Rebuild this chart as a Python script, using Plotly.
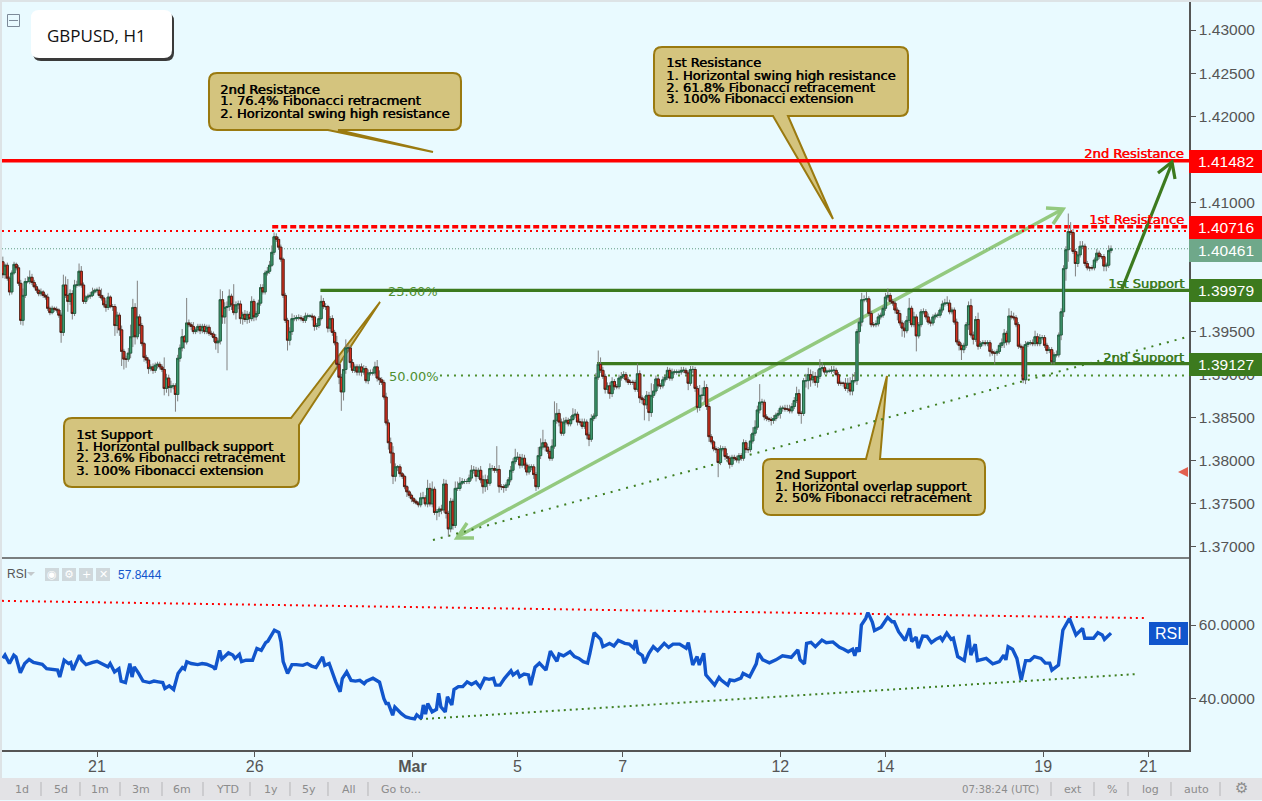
import numpy as np
import plotly.graph_objects as go

W, H = 1262, 801
first_open = 14031  # prices in pips (1/10000)

closes_a = [14016,14027,14012,13996,14018,14028,14024,14006,13963,13992,
14008,14008,14013,14007,14002,13998,13994,13996,13992,13990,
13977,13972,13977,13976,13975,13969,13949,14004,13992,13985,
13994,13971,14004,14004,14020,14004,13985,13990,13991,13992,
13996,13998,13998,13992,13989,13981,13978,13990,13979,13979,
13957,13969,13952,13927,13918,13918,13925,13944,13978,13944,
13967,13957,13936,13920,13917,13907,13909,13905,13911,13912,
13909,13906,13884,13896,13885,13887,13887,13877,13919,13931,
13944,13938,13960,13958,13956,13950,13952,13956,13951,13956,
13950,13955,13948,13947,13943,13937,13939,13987,13967,13978,
13979,13991,13981,13972,13981,13982,13965,13970,13964,13970,
13965,13985,13967,13971,13983,14001,13996,14018,14020,14027,
14042,14060,14057,14048,14034,13992,13963,13940,13950,13965,
13965,13966,13966,13965,13963,13968,13968,13968,13967,13956,
13957,13965,13985,13979,13979,13954,13965,13949,13937,13912,
13897,13880,13906,13931,13931,13914,13905,13909,13903,13909,
13903,13907,13893,13902,13902,13902,13909,13896,13894,13891,13874]
upper_a = [6,2,3,2,3,3,2,3,4,8, 4,6,8,4,3,3,2,4,2,2, 4,2,3,2,3,2,3,12,10,19, 5,4,6,5,9,6,3,2,3,4,
5,2,3,4,8,3,5,5,2,3, 3,4,3,5,3,4,6,14,10,5, 42,3,3,2,3,3,3,4,3,3, 3,3,14,5,4,6,3,3,4,4,
9,2,29,4,3,5,3,3,3,3, 3,3,3,3,3,4,3,12,10,6, 6,8,3,24,4,4,4,3,5,4, 3,6,3,3,4,4,4,3,5,5,
8,5,4,3,3,2,3,3,5,6, 4,3,4,3,3,4,3,2,3,2, 3,3,7,4,4,2,3,4,3,8, 10,4,14,10,4,3,4,3,3,3,
4,4,3,4,4,5,6,8,9,3,3]
lower_a = [4,5,3,4,3,2,3,3,5,6, 3,2,3,3,2,3,3,3,3,3, 3,3,2,3,3,3,12,4,3,12, 4,7,3,3,2,3,3,3,3,3,
2,2,3,3,3,3,5,3,2,5, 12,9,7,17,12,10,3,6,12,9, 3,10,3,5,4,6,3,4,3,4, 3,3,8,5,10,6,4,20,8,4,
4,8,3,3,4,3,3,3,4,3, 3,3,3,3,5,8,12,4,8,8, 73,5,6,3,8,5,6,7,3,5, 5,3,5,4,3,3,3,3,3,3,
2,3,3,3,3,3,3,12,6,4, 3,3,3,3,3,3,3,2,4,5, 4,3,2,3,4,5,4,4,3,3, 8,22,10,5,5,6,3,3,4,4,
5,3,3,4,3,3,3,4,6,3,3]

closes_b = [13844,13821,13809,13782,13793,13793,13785,13782,13770,13764,
13760,13756,13753,13751,13749,13757,13757,13750,13768,13750,
13767,13740,13741,13744,13743,13773,13739,13721,13753,13725,
13768,13768,13774,13776,13776,13776,13780,13789,13789,13782,
13789,13778,13770,13778,13774,13791,13791,13789,13790,13770,
13770,13769,13772,13778,13789,13799,13804,13804,13795,13803,
13795,13787,13793,13793,13784,13770,13806,13816,13821,13816,
13811,13803,13817,13847,13855,13845,13832,13845,13847,13843,
13848,13853,13854,13845,13845,13840,13845,13830,13825,13849,
13852,13897,13912,13905,13898,13883,13887,13878,13892,13886,
13886,13896,13898,13900,13894,13891,13891,13891,13883,13901,
13873,13871,13865,13876,13856,13876,13881,13895,13887,13887,
13894,13897,13905,13896,13903,13903,13903,13903,13905,13905,
13902,13890,13906,13906,13884,13862,13876,13876,13885,13863,
13828,13822,13814,13813,13798,13814,13814,13805,13803,13796,
13804,13803,13801,13806,13803,13821,13813,13813,13823,13832,
13839,13859,13868,13868,13851,13849,13848,13847,13849,13853,13855]
upper_b = [5,4,6,8,4,2,3,2,2,2, 2,2,2,2,2,6,7,3,10,6, 9,3,3,3,5,6,5,3,4,3, 8,8,7,4,3,3,4,6,5,4,
3,5,5,6,5,6,4,3,27,5, 3,3,3,3,5,4,10,6,4,5, 4,3,3,3,3,3,10,10,15,4, 4,3,8,22,12,5,4,5,4,3,
4,8,6,3,4,4,4,3,3,5, 3,5,16,8,4,3,4,4,5,3, 3,4,5,4,3,3,3,3,3,12, 4,3,4,5,4,14,8,4,3,3,
4,3,4,3,4,3,3,3,4,4, 3,3,4,4,3,3,12,9,8,4, 4,3,2,3,3,4,3,3,4,3, 3,3,3,3,3,4,3,3,8,7,
8,5,21,4,3,3,2,3,4,3,4]
lower_b = [3,8,12,9,6,5,4,3,3,6, 3,4,3,2,3,3,2,3,4,3, 4,3,9,6,5,3,6,9,4,5, 3,3,3,2,3,3,3,3,4,6,
3,4,8,6,8,3,3,3,3,7, 4,6,4,3,3,3,3,3,4,3, 5,4,3,4,5,5,3,4,3,5, 3,3,3,3,4,5,3,3,3,3,
3,2,3,4,3,3,3,5,8,3, 3,3,3,3,3,5,5,6,4,4, 3,3,3,3,3,3,3,3,3,3, 6,5,18,5,10,5,3,3,3,4,
3,3,3,3,3,3,3,3,3,3, 3,8,3,4,4,6,4,5,8,4, 6,3,3,4,17,3,3,4,5,5, 3,3,3,4,3,3,4,4,3,3,
3,3,4,3,4,3,3,6,4,3,3]

closes_c = [13861,13861,13860,13860,13858,13863,13870,13878,13855,13855,
13893,13893,13900,13894,13898,13891,13898,13907,13908,13903,
13904,13904,13905,13905,13900,13890,13890,13890,13884,13890,13881,13893,13893]
upper_c = [3,3,4,5,5,4,4,8,5,3, 3,8,8,6,6,5,8,11,6,3, 2,3,5,5,3,3,3,2,6,6, 7,8,10]
lower_c = [6,4,3,3,3,3,3,3,3,12, 3,8,10,8,4,4,6,3,3,3, 3,2,3,3,2,3,3,4,3,5, 5,5,3]

closes_d = [13950,13961,13987,13987,13988,13971,13958,13958,13959,13967,
13969,13977,13990,13992,13985,13983,13975,13971,13960,13954,
13951,13963,13977,13958,13967,13945,13958,13973,13973,13967,
13961,13960,13967,13969,13969,13975,13982,13983,13983,13973,
13975,13961,13938,13934,13929,13934,13958,13980,13946,13941,
13964,13933,13936,13937,13936,13937,13927,13925,13925,13927,
13934,13937,13948,13938,13968,13967,13966,13958,13933,13932,
13894,13935,13937,13937,13936,13944,13936,13943,13943,13934,
13928,13929,13915,13923,13923,13946,13973,14023,14045,14066,
14065,14043,14029,14039,14049,14049,14029,14024,14024,14024,
14033,14041,14037,14037,14026,14027,14044,14046]
upper_d = [3,5,8,5,8,3,3,3,4,4, 3,3,5,8,3,3,3,3,4,3, 8,5,12,3,6,3,3,3,4,3, 4,3,3,3,3,3,4,5,8,4,
3,3,4,3,3,3,3,5,8,4, 4,8,3,3,3,3,3,3,3,3, 3,5,5,3,9,6,5,3,3,3, 3,4,2,3,4,7,4,4,3,3,
3,3,3,3,5,3,4,4,4,21, 11,4,3,4,6,6,3,3,2,3, 3,5,3,3,3,3,6,4]
lower_d = [5,14,5,3,3,3,3,3,3,3, 3,3,3,3,3,3,4,8,3,10, 8,3,3,3,3,18,3,3,3,3, 3,4,3,3,3,3,3,3,3,3,
3,3,3,6,12,4,3,6,3,6, 3,4,3,3,3,3,6,3,13,3, 3,3,6,4,3,3,3,3,3,3, 4,5,3,3,3,3,3,3,3,3,
4,3,3,3,3,3,6,6,14,14, 3,3,15,4,3,3,3,3,4,3, 3,3,3,3,6,6,3,3]

segment_hours = [(1, 175), (176, 355), (356, 390), (391, 507)]

rsi_hours = [1,2,4,6,7,9,11,13,15,17,19,21,24,26,27,29,31,32,33,36,37,39,42,44,46,49,50,52,54,55,57,59,60,61,63,65,68,70,72,74,75,77,79,81,83,84,85,87,90,92,94,97,98,100,101,104,106,107,109,110,112,115,117,119,121,122,125,127,128,129,131,133,135,138,140,142,144,147,148,150,153,155,156,158,160,162,164,166,167,170,173,175,176,177,179,180,183,185,187,189,190,
192,193,194,195,197,199,200,201,203,204,206,207,209,211,213,215,217,219,221,223,225,226,228,230,233,234,236,237,239,241,242,244,246,249,251,254,255,257,260,262,264,266,268,269,271,274,275,278,280,282,285,287,289,290,291,293,294,296,298,300,303,305,307,310,313,314,316,318,319,321,322,326,328,329,332,333,335,338,339,342,345,346,348,351,354,357,361,364,365,367,368,370,372,375,377,380,383,
385,387,389,390,391,392,393,395,396,398,399,402,403,405,407,408,410,412,413,415,416,418,419,421,423,425,427,429,430,432,434,435,437,440,442,443,445,446,450,453,456,458,459,460,462,464,466,468,470,472,475,477,479,480,483,485,488,491,494,495,499,501,503,504,507]
rsi_values = [50.9,51.8,49.5,51.8,51.3,47.0,49.5,50.6,49.8,49.5,49.3,48.1,47.9,47.7,45.8,50.4,49.5,49.8,47.7,51.8,50.4,49.2,49.8,50.1,49.5,48.6,49.5,47.2,48.1,44.7,44.3,49.5,45.8,48.6,46.8,44.7,44.3,44.7,44.5,44.3,42.7,43.4,42.4,46.8,48.4,48.0,50.0,49.5,49.2,49.5,49.3,48.6,47.9,53.1,50.7,52.4,51.8,50.9,52.0,50.0,50.4,50.4,53.6,53.1,55.2,55.6,58.6,58.0,55.4,50.0,46.8,49.2,49.2,49.0,49.5,48.8,48.4,51.3,49.0,49.5,44.5,41.8,45.4,47.2,44.9,44.7,44.9,44.0,44.7,45.5,44.4,39.9,38.6,38.6,35.4,37.6,35.8,34.9,34.6,34.4,35.5,
34.5,38.2,35.7,38.6,36.3,37.0,41.4,37.7,36.3,40.4,38.2,42.4,43.2,43.2,44.5,43.8,44.5,43.0,45.5,45.2,45.5,43.6,43.6,45.4,47.5,46.4,47.3,45.9,46.6,46.4,43.6,48.5,49.6,47.7,52.9,50.1,52.1,51.6,52.7,51.4,50.9,50.0,49.6,52.1,57.9,56.1,54.1,55.0,54.3,55.8,55.0,54.8,53.7,55.9,52.5,51.7,49.6,52.3,54.1,53.0,55.0,53.9,54.8,54.8,53.7,55.2,49.1,51.4,49.1,52.3,46.4,43.6,45.7,45.0,43.6,45.0,44.8,45.5,46.8,45.9,49.4,52.3,50.5,49.7,50.5,51.6,51.2,53.2,50.5,49.4,55.0,55.3,54.1,55.9,55.2,55.4,53.9,
53.4,52.7,53.4,51.6,53.9,52.7,60.0,61.8,63.4,60.8,58.5,59.4,60.3,62.1,60.9,60.9,58.2,56.4,55.8,59.1,55.5,56.7,53.7,57.0,56.9,55.2,56.1,56.7,55.8,57.8,56.1,56.4,51.4,50.3,57.3,51.8,54.8,50.3,50.9,49.4,50.0,51.8,50.5,54.1,53.4,50.9,45.0,50.3,50.3,51.4,50.9,49.6,49.6,47.7,49.1,58.6,61.8,57.3,59.1,56.4,56.4,57.9,57.3,56.1,57.8]

price_ticks = [1.43,1.425,1.42,1.41,1.395,1.39,1.385,1.38,1.375,1.37]
rsi_ticks = [40, 60]
rsi_tick_text = ["40.0000", "60.0000"]
date_ticks = [44,116,188,236,284,356,404,476,524]
date_labels = ["21","26","<b>Mar</b>","5","7","12","14","19","21"]

res2, res1, sup1, sup2 = 1.41482, 1.40716, 1.39979, 1.39127
last_price = 1.40461
fib50, res_dotted = 1.3899, 1.40667
trend_hours, trend_prices = [197.4, 542.2], [1.3708, 1.3944]
rsi_red_hours, rsi_red_vals = [0.6, 522.5], [66.6, 61.9]
rsi_green_hours, rsi_green_vals = [191.5, 518], [34.3, 46.6]

# ---------------- candles
hours, o, h, l, c = [], [], [], [], []
prev = first_open
for (cl, up, lo, (h0, h1)) in zip([closes_a,closes_b,closes_c,closes_d],
                                  [upper_a,upper_b,upper_c,upper_d],
                                  [lower_a,lower_b,lower_c,lower_d], segment_hours):
    up = (up + [3]*len(cl))[:len(cl)]
    lo = (lo + [3]*len(cl))[:len(cl)]
    hours += list(np.linspace(h0, h1, len(cl)))
    for v, u, d in zip(cl, up, lo):
        o.append(prev/1e4); c.append(v/1e4)
        h.append((max(prev, v)+u)/1e4); l.append((min(prev, v)-d)/1e4)
        prev = v

X = lambda px: px/W
Y = lambda py: 1-py/H

BG = "#e9faff"
GREEN = "#3c7a1e"
RED = "#ff0000"
GOLD_F, GOLD_L = "#d4c47e", "#9a7a10"
GREY = "#555555"
BLUE = "#1155cc"

shapes, ann = [], []

def pshape(path, fill=None, line=None, w=1, layer="above", dash=None):
    shapes.append(dict(type="path", path=path, xref="paper", yref="paper",
                       fillcolor=fill or "rgba(0,0,0,0)", layer=layer,
                       line=dict(color=line or "rgba(0,0,0,0)", width=w, dash=dash)))

def poly(pts, close=False):
    s = "M " + " L ".join(f"{X(a):.5f} {Y(b):.5f}" for a, b in pts)
    return s + (" Z" if close else "")

def rrect(x0, y0, x1, y1, r=8, tail=None):
    """rounded rectangle; tail = (edge, p0, tip, p1)"""
    P = lambda a, b: f"{X(a):.5f} {Y(b):.5f}"
    s = f"M {P(x0+r,y0)} "
    if tail and tail[0] == "top":
        s += f"L {P(tail[1],y0)} L {P(*tail[2])} "
        if tail[3][0] == x1:
            s += f"L {P(*tail[3])} L {P(x1,y1-r)} Q {P(x1,y1)} {P(x1-r,y1)} "
        else:
            s += f"L {P(tail[3][0],y0)} L {P(x1-r,y0)} Q {P(x1,y0)} {P(x1,y0+r)} L {P(x1,y1-r)} Q {P(x1,y1)} {P(x1-r,y1)} "
    else:
        s += f"L {P(x1-r,y0)} Q {P(x1,y0)} {P(x1,y0+r)} L {P(x1,y1-r)} Q {P(x1,y1)} {P(x1-r,y1)} "
    if tail and tail[0] == "bottom":
        s += f"L {P(tail[3],y1)} L {P(*tail[2])} L {P(tail[1],y1)} "
    s += f"L {P(x0+r,y1)} Q {P(x0,y1)} {P(x0,y1-r)} L {P(x0,y0+r)} Q {P(x0,y0)} {P(x0+r,y0)} Z"
    return s

def text(px, py, t, size=12, color="#000", anchor="left", family="DejaVu Sans", shadow=None, weight=None):
    f = dict(size=size, color=color, family=family)
    if shadow: f["shadow"] = shadow
    if weight: f["weight"] = weight
    ann.append(dict(x=X(px), y=Y(py), xref="paper", yref="paper", text=t, showarrow=False,
                    xanchor=anchor, yanchor="middle", font=f, borderpad=0, borderwidth=0))

# callouts (under the candles)
pshape(rrect(209, 73, 461, 130, tail=("bottom", 328, (433, 152), 338)), GOLD_F, GOLD_L, 2, "below")
pshape(rrect(654, 47, 908, 116, tail=("bottom", 773, (833, 219), 788)), GOLD_F, GOLD_L, 2, "below")
pshape(rrect(64, 418, 299, 487, tail=("top", 291, (380, 302), (299, 425))), GOLD_F, GOLD_L, 2, "below")
pshape(rrect(763, 459, 985, 515, tail=("top", 866, (887, 376), (880, 459))), GOLD_F, GOLD_L, 2, "below")

def level(x0, x1, y, color, width, dash="solid"):
    shapes.append(dict(type="line", xref="x", yref="y", x0=x0, x1=x1, y0=y, y1=y, layer="below",
                       line=dict(color=color, width=width, dash=dash)))

XMIN, XMAX = 0.62, 542.6
level(XMIN, XMAX, last_price, "#5f9a80", 1, "1px,2px")
level(XMIN, XMAX, res_dotted, RED, 2, "2px,4px")
level(124, XMAX, res1, RED, 3.5, "6px,3px")
level(XMIN, XMAX, res2, RED, 3.5)
level(146, XMAX, sup1, GREEN, 3.2)
level(272.3, XMAX, sup2, GREEN, 3.2)
level(200.6, XMAX, fib50, "#4f8f30", 2, "2px,5px")
shapes.append(dict(type="line", xref="x", yref="y", x0=trend_hours[0], x1=trend_hours[1],
                   y0=trend_prices[0], y1=trend_prices[1], layer="below",
                   line=dict(color="#3f7f22", width=2, dash="2px,6px")))
for hh, vv, col in ((rsi_red_hours, rsi_red_vals, RED), (rsi_green_hours, rsi_green_vals, "#3f7f22")):
    shapes.append(dict(type="line", xref="x", yref="y2", x0=hh[0], x1=hh[1], y0=vv[0], y1=vv[1],
                       layer="below", line=dict(color=col, width=2, dash="2px,4px")))

# light green double arrow
LG = "#93c97f"
pshape(poly([(457, 537), (1063, 209)]), None, LG, 3.5, "below")
pshape(poly([(1046, 208), (1063, 209), (1053, 224)]), None, LG, 3.5, "below")
pshape(poly([(467, 523), (457, 538), (474, 538)]), None, LG, 3.5, "below")

# dark green arrow
pshape(poly([(1122, 289), (1172, 163)]), None, GREEN, 3.2)
pshape(poly([(1158, 173), (1172, 162), (1175, 179)]), None, GREEN, 3.2)

# price tags
for y0, y1, col, t in ((150, 173, "#ff0000", "1.41482"), (216, 239, "#ff0000", "1.40716"),
                       (239, 262, "#6fa88a", "1.40461"), (279, 302, GREEN, "1.39979"),
                       (353, 376, GREEN, "1.39127")):
    shapes.append(dict(type="rect", xref="paper", yref="paper", x0=X(1189), x1=X(1262), y0=Y(y1), y1=Y(y0),
                       fillcolor=col, line=dict(width=0), layer="above"))
    text(1226, (y0+y1)/2, t, 15.5, "#ffffff", "center", "Liberation Sans")

shapes.append(dict(type="rect", xref="paper", yref="paper", x0=X(1149), x1=X(1188), y0=Y(645), y1=Y(622),
                   fillcolor=BLUE, line=dict(width=0), layer="above"))
text(1168.5, 633.5, "RSI", 16, "#ffffff", "center", "Liberation Sans")

# pane separator, borders
for a, b, col, wd in (((2, 558), (1189, 558), GREY, 1.5), ((0, 1), (1262, 1), "#dde3e6", 2), ((1, 0), (1, 778), "#dde3e6", 2)):
    pshape(poly([a, b]), None, col, wd)

# bottom bar
shapes.append(dict(type="rect", xref="paper", yref="paper", x0=0, x1=1, y0=Y(800), y1=Y(778),
                   fillcolor="#e3e3e6", line=dict(width=0), layer="above"))
for xs in (41, 80, 120, 162, 203, 250, 290, 328, 368, 1051, 1094, 1128, 1171, 1220):
    pshape(poly([(xs, 782), (xs, 796)]), None, "#b5b5b8", 1)
for xs, t in ((22,"1d"),(61,"5d"),(100,"1m"),(141,"3m"),(182,"6m"),(227,"YTD"),(271,"1y"),(309,"5y"),(349,"All"),(401,"Go to..."),
              (1073,"ext"),(1112,"%"),(1150,"log"),(1196,"auto")):
    text(xs, 789, t, 11, "#8c8c8c", "center")
text(1000, 789, "07:38:24 (UTC)", 10.2, "#8c8c8c", "center")
text(1241, 788, "⚙", 15, "#8c8c8c", "center")

# title badge
pshape(rrect(33, 13, 174, 61, 8), "#3a3a3a", None, 0)
pshape(rrect(31, 10, 172, 58, 8), "#ffffff", None, 0)
text(97, 35, "GBPUSD, H1", 17, "#111111", "center", "Open Sans")
shapes.append(dict(type="rect", xref="paper", yref="paper", x0=X(7.5), x1=X(19.5), y0=Y(26.5), y1=Y(14.5),
                   line=dict(color="#7d8a99", width=1), layer="above"))
pshape(poly([(9, 20.5), (18, 20.5)]), None, "#7d8a99", 1)

# RSI header
text(7, 574, "RSI", 12, GREY, "left", "Liberation Sans")
pshape(poly([(27, 572), (35, 572), (31, 576)], True), "#c4c9cc", None, 0)
for x0, sym in ((45, "◉"), (62, "⚙"), (79, "+"), (96, "✕")):
    shapes.append(dict(type="rect", xref="paper", yref="paper", x0=X(x0), x1=X(x0+14), y0=Y(581), y1=Y(568),
                       fillcolor="#cfd8dc", line=dict(width=0), layer="above"))
    text(x0+7, 574.5, sym, 11, "#ffffff", "center")
text(118, 574.5, "57.8444", 12, BLUE, "left", "Liberation Sans")

# red marker
pshape(poly([(1178, 472), (1188, 467), (1188, 477)], True), "#e2604f", None, 0)

# callout text
SH = "0.6px 0 0 #000"
LINES = (
    (220, 89, ["2nd Resistance", "1. 76.4% Fibonacci retracment", "2. Horizontal swing high resistance"]),
    (666, 63, ["1st Resistance", "1. Horizontal swing high resistance", "2. 61.8% Fibonacci retracement", "3. 100% Fibonacci extension"]),
    (76, 434, ["1st Support", "1. Horizontal pullback support", "2. 23.6% Fibonacci retracement", "3. 100% Fibonacci extension"]),
    (775, 474, ["2nd Support", "1. Horizontal overlap support", "2. 50% Fibonacci retracement"]),
)
for px0, py0, rows in LINES:
    for i, t in enumerate(rows):
        text(px0, py0 + 12*i, t, 13.1, "#000000", "left", "DejaVu Sans", SH)

for t, py, col in (("2nd Resistance", 153.5, RED), ("1st Resistance", 219.5, RED),
                   ("1st Support", 283, GREEN), ("2nd Support", 357, GREEN)):
    text(1184, py, t, 13.1, col, "right", "DejaVu Sans", f"0.6px 0 0 {col}")
text(388, 291.5, "23.60%", 13, "#4f8f30", "left", "DejaVu Sans")
text(389, 376.5, "50.00%", 13, "#4f8f30", "left", "DejaVu Sans")

fig = go.Figure()
# wicks
fig.add_trace(go.Candlestick(x=hours, open=o, high=h, low=l, close=c, hoverinfo="skip", showlegend=False,
    increasing=dict(line=dict(color="#808080", width=1), fillcolor="rgba(0,0,0,0)"),
    decreasing=dict(line=dict(color="#808080", width=1), fillcolor="rgba(0,0,0,0)")))
# bodies
top = [max(a, b) for a, b in zip(o, c)]
bot = [min(a, b) for a, b in zip(o, c)]
fig.add_trace(go.Candlestick(x=hours, open=o, high=top, low=bot, close=c, hoverinfo="skip", showlegend=False,
    increasing=dict(line=dict(color="#1f5f3f", width=0.9), fillcolor="#3f9a70"),
    decreasing=dict(line=dict(color="#4a1c12", width=0.9), fillcolor="#e2301f")))
fig.add_trace(go.Scatter(x=rsi_hours, y=rsi_values, mode="lines", yaxis="y2", hoverinfo="skip", showlegend=False,
                         line=dict(color=BLUE, width=3.4)))

tickfont = dict(family="Liberation Sans", size=15.5, color=GREY)
fig.update_layout(
    width=W, height=H, margin=dict(l=0, r=0, t=0, b=0),
    paper_bgcolor=BG, plot_bgcolor=BG, showlegend=False, boxgap=0.0, boxgroupgap=0.0,
    xaxis=dict(domain=[X(2), X(1189)], range=[XMIN, XMAX], anchor="y2", rangeslider=dict(visible=False),
               tickmode="array", tickvals=date_ticks, ticktext=date_labels,
               tickfont=dict(family="Liberation Sans", size=16, color=GREY), ticklabelstandoff=-4,
               ticks="outside", ticklen=5, tickcolor=GREY, showgrid=False, zeroline=False,
               showline=True, linecolor=GREY, linewidth=1.5),
    yaxis=dict(domain=[Y(558), Y(2)], range=[1.36872, 1.43325], side="right", anchor="x",
               tickmode="array", tickvals=price_ticks, ticktext=[f"{v:.5f}" for v in price_ticks],
               tickfont=tickfont, ticks="outside", ticklen=5, tickcolor=GREY, showgrid=False, zeroline=False,
               showline=True, linecolor=GREY, linewidth=1.5),
    yaxis2=dict(domain=[Y(750), Y(558)], range=[25.9, 78.3], side="right", anchor="x",
                tickmode="array", tickvals=rsi_ticks, ticktext=rsi_tick_text, tickfont=tickfont,
                ticks="outside", ticklen=5, tickcolor=GREY, showgrid=False, zeroline=False,
                showline=True, linecolor=GREY, linewidth=1.5),
    shapes=shapes, annotations=ann,
)
fig.write_html("out.html", config=dict(displayModeBar=False),
               post_script="document.body.style.margin='0';document.body.style.overflow='hidden';")
